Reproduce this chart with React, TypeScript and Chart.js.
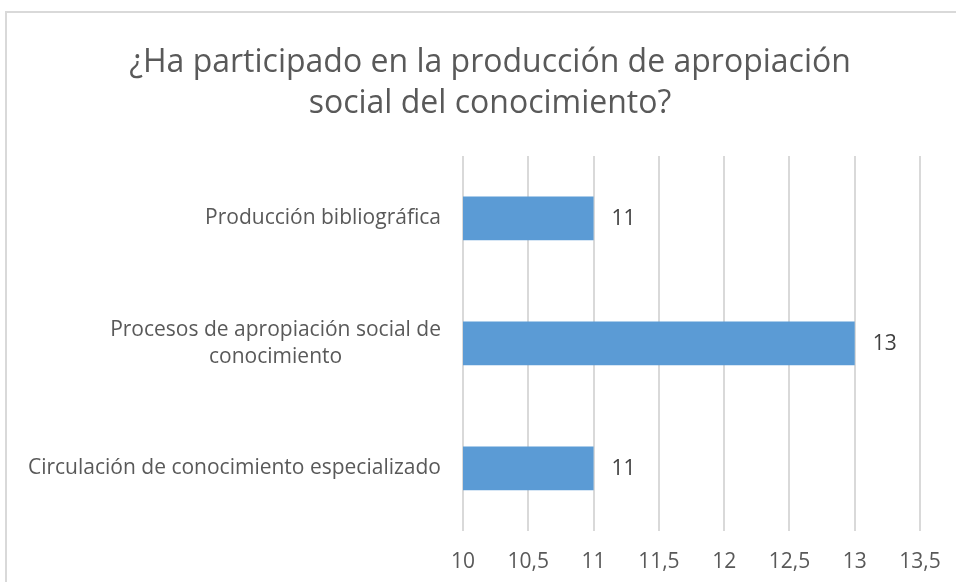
import React, { useEffect, useRef } from "react";
import { Chart, registerables } from "chart.js";

Chart.register(...registerables);

const TITLE_LINES = ["¿Ha participado en la producción de apropiación", "social del conocimiento?"];
const CATEGORIES: string[][] = [
  ["Producción bibliográfica"],
  ["Procesos de apropiación social de", "conocimiento"],
  ["Circulación de conocimiento especializado"],
];
const VALUES = [11, 13, 11];
const X_MIN = 10;
const X_MAX = 13.5;
const X_STEP = 0.5;

const FONT = "'Open Sans', sans-serif";
const TEXT_COLOR = "#595959";
const BAR_COLOR = "#5B9BD5";
const GRID_COLOR = "#d9d9d9";

const labelsPlugin = {
  id: "customLabels",
  afterDraw(chart: any) {
    const ctx = chart.ctx;
    const yScale = chart.scales.y;
    const area = chart.chartArea;
    ctx.save();
    // title
    ctx.font = `32px ${FONT}`;
    ctx.fillStyle = TEXT_COLOR;
    ctx.textAlign = "center";
    ctx.textBaseline = "alphabetic";
    TITLE_LINES.forEach((line, i) => {
      ctx.fillText(line, 483, 59 + i * 41);
    });
    // category labels
    ctx.textBaseline = "middle";
    ctx.font = `21px ${FONT}`;
    const rightX = area.left - 22;
    const lineH = 27.5;
    CATEGORIES.forEach((lines, i) => {
      const y = yScale.getPixelForTick(i);
      const maxW = Math.max(...lines.map((l) => ctx.measureText(l).width));
      const startY = y - ((lines.length - 1) * lineH) / 2;
      lines.forEach((line, j) => {
        if (lines.length > 1) {
          ctx.textAlign = "center";
          ctx.fillText(line, rightX - maxW / 2, startY + j * lineH);
        } else {
          ctx.textAlign = "right";
          ctx.fillText(line, rightX, startY + j * lineH);
        }
      });
    });
    // data labels
    const meta = chart.getDatasetMeta(0);
    ctx.fillStyle = "#404040";
    ctx.textAlign = "left";
    meta.data.forEach((bar: any, i: number) => {
      ctx.fillText(String(VALUES[i]), bar.x + 18, bar.y + 1);
    });
    ctx.restore();
  },
};

export default function App() {
  const ref = useRef<HTMLCanvasElement | null>(null);
  useEffect(() => {
    document.body.style.margin = "0";
    document.body.style.overflow = "hidden";
    const chart = new Chart(ref.current as HTMLCanvasElement, {
      type: "bar",
      data: {
        labels: CATEGORIES.map((c) => c.join(" ")),
        datasets: [
          {
            data: VALUES,
            backgroundColor: BAR_COLOR,
            borderWidth: 0,
            barPercentage: 0.7,
            categoryPercentage: 0.5,
          },
        ],
      },
      options: {
        indexAxis: "y",
        responsive: false,
        animation: false,
        layout: { padding: { left: 0, right: 55, top: 143, bottom: 4 } },
        plugins: {
          legend: { display: false },
          tooltip: { enabled: false },
          title: { display: false },
        },
        scales: {
          x: {
            type: "linear",
            min: X_MIN,
            max: X_MAX,
            grid: { color: GRID_COLOR, lineWidth: 2, drawTicks: false },
            border: { display: false },
            ticks: {
              stepSize: X_STEP,
              padding: 19,
              color: TEXT_COLOR,
              font: { family: FONT, size: 21 },
              callback: (v: any) => String(v).replace(".", ","),
            },
          },
          y: {
            type: "category",
            grid: { display: false },
            border: { display: false },
            ticks: { display: false },
            afterFit(scale: any) {
              scale.width = 456;
            },
          },
        },
      },
      plugins: [labelsPlugin],
    } as any);
    return () => chart.destroy();
  }, []);

  return (
    <div style={{ position: "fixed", left: 0, top: 0, width: 956, height: 582, overflow: "hidden", background: "#fff" }}>
      <div
        style={{
          position: "absolute",
          left: 5,
          top: 11,
          width: 968,
          height: 620,
          borderTop: `2px solid ${GRID_COLOR}`,
          borderLeft: `2px solid ${GRID_COLOR}`,
        }}
      >
        <canvas ref={ref} width={968} height={585} style={{ display: "block" }} />
      </div>
    </div>
  );
}
